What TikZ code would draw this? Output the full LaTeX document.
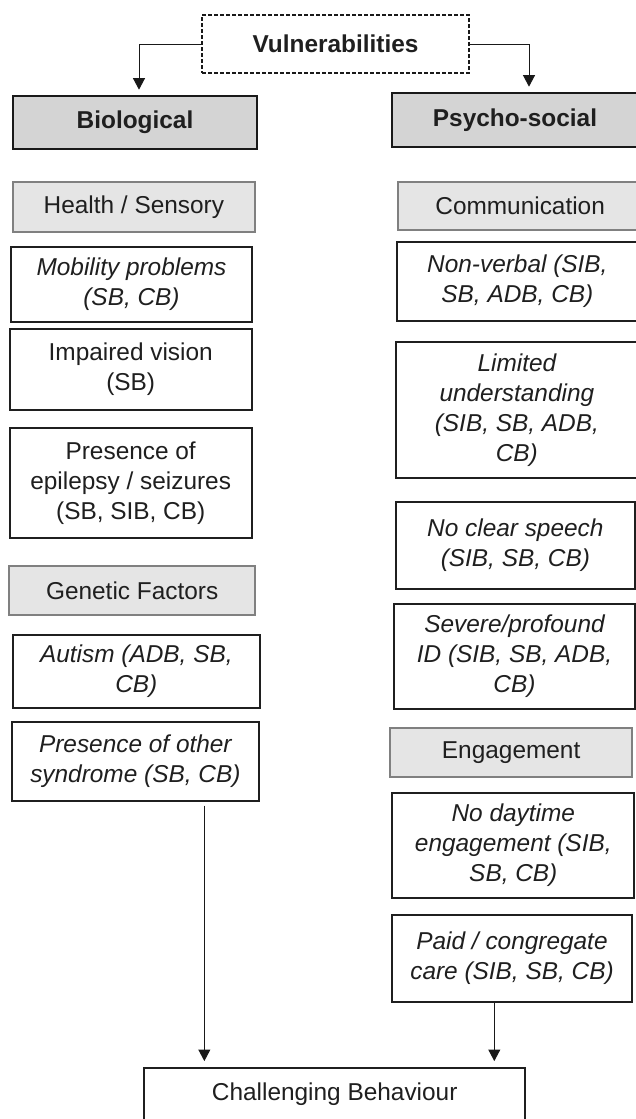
\documentclass[tikz,border=0pt]{standalone}
\usepackage{fontspec}
\setmainfont{Liberation Sans}
\usetikzlibrary{arrows.meta}

\tikzset{
  every node/.style={inner sep=0pt, align=center, text=black!88,
    font=\fontsize{12.2}{15}\selectfont},
  topbox/.style={draw=black!90, dash pattern=on 2pt off 1pt, line width=0.7pt,
    font=\fontsize{12.2}{15}\selectfont\bfseries},
  catbox/.style={draw=black!90, fill=black!17, line width=1pt,
    font=\fontsize{12.2}{15}\selectfont\bfseries},
  subbox/.style={draw=black!50, fill=black!10, line width=1pt},
  itembox/.style={draw=black!88, fill=white, line width=1pt},
  itbox/.style={itembox, font=\fontsize{12.2}{15}\selectfont\itshape},
  conn/.style={draw=black!90, line width=0.5pt, -{Triangle[width=6pt,length=5.8pt]}}
}

\begin{document}
\begin{tikzpicture}[x=0.5pt,y=-0.5pt]
\useasboundingbox (0,0) rectangle (636,1119);

% top
\node[topbox, minimum width=133.5pt, minimum height=29pt] (vul) at (335.5,44) {Vulnerabilities};
\node[catbox, minimum width=121.7pt, minimum height=26.65pt] (bio) at (135,122.35) {Biological};
\node[catbox, minimum width=123pt, minimum height=26.7pt] (psy) at (515,120) {Psycho-social};

% biological side
\node[subbox, minimum width=121.15pt, minimum height=24.7pt] (hs) at (133.85,207) {Health / Sensory};
\node[itbox, minimum width=120.8pt, minimum height=37.5pt] (mob) at (131.5,284.2) {Mobility problems\\(SB, CB)};
\node[itembox, minimum width=121pt, minimum height=40.65pt] (vis) at (130.7,369.35) {Impaired vision\\(SB)};
\node[itembox, minimum width=121pt, minimum height=55pt] (epi) at (130.7,482.7) {Presence of\\epilepsy / seizures\\(SB, SIB, CB)};
\node[subbox, minimum width=122.85pt, minimum height=24.5pt] (gen) at (132.15,590.5) {Genetic Factors};
\node[itbox, minimum width=123.65pt, minimum height=36.65pt] (aut) at (136.35,671.65) {Autism (ADB, SB,\\CB)};
\node[itbox, minimum width=123.65pt, minimum height=39.5pt] (oth) at (135.35,761.2) {Presence of other\\syndrome (SB, CB)};

% psycho-social side
\node[subbox, minimum width=121.85pt, minimum height=24.15pt] (com) at (520.15,205.85) {Communication};
\node[itbox, minimum width=120.65pt, minimum height=39.2pt] (nv) at (517.35,281.5) {Non-verbal (SIB,\\SB, ADB, CB)};
\node[itbox, minimum width=121.15pt, minimum height=67.7pt] (lim) at (516.85,410) {Limited\\understanding\\(SIB, SB, ADB,\\CB)};
\node[itbox, minimum width=119.65pt, minimum height=43.8pt] (ncs) at (515.35,545.5) {No clear speech\\(SIB, SB, CB)};
\node[itbox, minimum width=120.5pt, minimum height=52.65pt] (sev) at (514.5,656.65) {Severe/profound\\ID (SIB, SB, ADB,\\CB)};
\node[subbox, minimum width=121.15pt, minimum height=24.2pt] (eng) at (511.15,752.5) {Engagement};
\node[itbox, minimum width=121pt, minimum height=52.2pt] (day) at (513.3,845.5) {No daytime\\engagement (SIB,\\SB, CB)};
\node[itbox, minimum width=120.3pt, minimum height=43.35pt] (pai) at (512,958.35) {Paid / congregate\\care (SIB, SB, CB)};

% bottom
\node[itembox, anchor=north, minimum width=190.35pt, inner ysep=7pt, text height=9.3pt, text depth=20pt] (cb) at (334.7,1066.7) {Challenging Behaviour};

% arrows
\draw[conn, shorten >=2.5pt] (vul.west) -| ([xshift=2pt]bio.north);
\draw[conn, shorten >=2.8pt] (vul.east) -| ([xshift=7pt]psy.north);
\draw[conn, shorten <=2pt, shorten >=2.8pt] ([xshift=34.5pt]oth.south) -- ([xshift=34.5pt]oth.south |- cb.north);
\draw[conn, shorten >=2.8pt] ([xshift=-8.85pt]pai.south) -- ([xshift=-8.85pt]pai.south |- cb.north);

\end{tikzpicture}
\end{document}
